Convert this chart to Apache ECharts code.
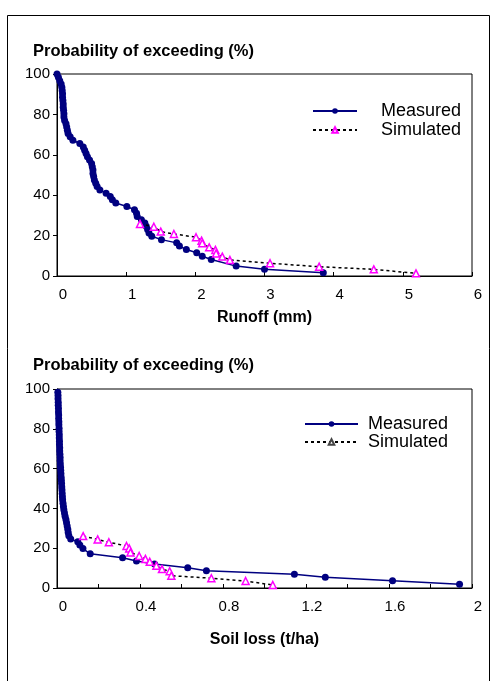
<!DOCTYPE html>
<html><head><meta charset="utf-8">
<script src="https://cdn.jsdelivr.net/npm/echarts@6/dist/echarts.min.js"></script>
<style>html,body{margin:0;padding:0;background:#fff}#c{width:500px;height:681px}</style>
</head><body><div id="c"></div>
<script>
// ---- Data ----
const runoffMeasuredX = [0.00,0.02,0.04,0.06,0.07,0.075,0.08,0.08,0.085,0.09,0.09,0.095,0.10,0.10,0.11,0.13,0.14,0.15,0.16,0.19,0.23,0.33,0.38,0.40,0.42,0.44,0.47,0.50,0.51,0.52,0.52,0.53,0.54,0.56,0.58,0.62,0.71,0.77,0.80,0.85,1.01,1.12,1.15,1.16,1.22,1.27,1.29,1.31,1.33,1.37,1.51,1.73,1.77,1.87,2.02,2.10,2.23,2.59,3.00,3.85];
const runoffMeasuredY = [100,98.4,96.7,95.1,93.4,91.8,90.2,88.5,86.9,85.2,83.6,82.0,80.3,78.7,77.0,75.4,73.8,72.1,70.5,68.9,67.2,65.6,63.9,62.3,60.7,59.0,57.4,55.7,54.1,52.5,50.8,49.2,47.5,45.9,44.3,42.6,41.0,39.3,37.7,36.1,34.4,32.8,31.1,29.5,27.9,26.2,24.6,23.0,21.3,19.7,18.0,16.4,14.8,13.1,11.5,9.8,8.2,4.9,3.3,1.6];
const runoffSimulatedX = [1.20,1.40,1.50,1.69,2.01,2.09,2.10,2.20,2.29,2.30,2.39,2.50,3.08,3.79,4.58,5.19];
const runoffSimulatedY = [25.8,24.4,22.0,20.8,19.2,17.5,16.2,14.2,12.9,11.2,9.6,7.9,6.3,4.6,3.3,1.3];

const soilMeasuredX = [0.004,0.005,0.005,0.006,0.006,0.007,0.007,0.008,0.008,0.009,0.009,0.010,0.010,0.011,0.011,0.012,0.012,0.013,0.013,0.014,0.015,0.015,0.016,0.017,0.018,0.019,0.020,0.021,0.022,0.023,0.024,0.025,0.026,0.027,0.029,0.031,0.033,0.036,0.039,0.043,0.046,0.049,0.052,0.054,0.057,0.066,0.100,0.110,0.125,0.160,0.316,0.383,0.470,0.630,0.720,1.144,1.293,1.617,1.940];
const soilMeasuredY = [98.4,96.7,95.1,93.4,91.8,90.2,88.5,86.9,85.2,83.6,82.0,80.3,78.7,77.0,75.4,73.8,72.1,70.5,68.9,67.2,65.6,63.9,62.3,60.7,59.0,57.4,55.7,54.1,52.5,50.8,49.2,47.5,45.9,44.3,42.6,41.0,39.3,37.7,36.1,34.4,32.8,31.1,29.5,27.9,26.2,24.6,23.2,21.6,19.8,17.2,15.2,13.6,12.0,10.2,8.7,6.9,5.4,3.7,1.9];
const soilSimulatedX = [0.126,0.196,0.250,0.335,0.348,0.354,0.396,0.426,0.447,0.479,0.506,0.543,0.551,0.744,0.909,1.040];
const soilSimulatedY = [26.1,24.4,23.0,21.1,19.9,17.9,16.1,14.6,13.2,11.2,9.5,8.4,6.2,4.9,3.5,1.5];

const yTickLabels = ['0','20','40','60','80','100'];
const runoffTickLabels = ['0','1','2','3','4','5','6'];
const soilTickLabels = ['0','0.4','0.8','1.2','1.6','2'];
const seriesNames = ['Measured','Simulated'];
const yTitle = 'Probability of exceeding (%)';
const runoffTitle = 'Runoff (mm)';
const soilTitle = 'Soil loss (t/ha)';

// ---- build ----
const FONT = "'Liberation Sans', Arial, sans-serif";
const zip = (xs, ys) => xs.map((x, i) => [x, ys[i]]);
const NAVY = '#000080', MAG = '#ff00ff';

function xAxisCfg(gi, max, interval, labels, name, nameGap, step) {
  return {
    gridIndex: gi, type: 'value', min: 0, max: max, interval: interval,
    axisLine: { show: true, onZero: false, lineStyle: { color: '#000', width: 1 } },
    axisTick: { show: true, inside: true, length: 4, lineStyle: { color: '#000' } },
    splitLine: { show: false },
    axisLabel: {
      color: '#000', fontSize: 15, fontFamily: FONT, margin: 11, padding: [0, 0, 0, 12],
      formatter: v => {
        const k = Math.round(v / interval);
        return (k % step === 0) ? (labels[k / step] || '') : '';
      }
    },
    name: name, nameLocation: 'middle', nameGap: nameGap,
    nameTextStyle: { color: '#000', fontSize: 16, fontWeight: 'bold', fontFamily: FONT }
  };
}
function yAxisCfg(gi) {
  return {
    gridIndex: gi, type: 'value', min: 0, max: 100, interval: 20,
    axisLine: { show: true, onZero: false, lineStyle: { color: '#000', width: 1 } },
    axisTick: { show: true, inside: false, length: 4, lineStyle: { color: '#000' } },
    splitLine: { show: false },
    axisLabel: { color: '#000', fontSize: 15, fontFamily: FONT, margin: 7,
      formatter: v => yTickLabels[Math.round(v / 20)] }
  };
}
function measured(name, gi, data) {
  return { type: 'line', name: name, xAxisIndex: gi, yAxisIndex: gi, data: data,
    symbol: 'circle', symbolSize: 7, showAllSymbol: true,
    lineStyle: { color: NAVY, width: 1.5 }, itemStyle: { color: NAVY }, z: 3, animation: false };
}
function simulated(name, gi, data) {
  return { type: 'line', name: name, xAxisIndex: gi, yAxisIndex: gi, data: data,
    symbol: 'triangle', symbolSize: 7, showAllSymbol: true,
    lineStyle: { color: '#000', width: 1.5, type: [3, 3] },
    itemStyle: { color: '#fff', borderColor: MAG, borderWidth: 1.5 }, z: 4, animation: false };
}

const chart = echarts.init(document.getElementById('c'), null, { renderer: 'canvas' });
chart.setOption({
  backgroundColor: '#fff',
  animation: false,
  textStyle: { fontFamily: FONT },
  graphic: [{ type: 'rect', silent: true, z: -10,
    shape: { x: 7.5, y: 15.5, width: 482, height: 700 },
    style: { fill: 'none', stroke: '#000', lineWidth: 1 } }],
  title: [
    { text: yTitle, left: 33, top: 43, padding: 0,
      textStyle: { fontSize: 16.5, fontWeight: 'bold', color: '#000', fontFamily: FONT } },
    { text: yTitle, left: 33, top: 357, padding: 0,
      textStyle: { fontSize: 16.5, fontWeight: 'bold', color: '#000', fontFamily: FONT } }
  ],
  grid: [
    { left: 57, top: 74, width: 415, height: 202, show: true, borderColor: '#000', borderWidth: 1, backgroundColor: 'transparent' },
    { left: 57, top: 389, width: 415, height: 199, show: true, borderColor: '#000', borderWidth: 1, backgroundColor: 'transparent' }
  ],
  xAxis: [
    xAxisCfg(0, 6, 1, runoffTickLabels, runoffTitle, 34, 1),
    xAxisCfg(1, 2, 0.2, soilTickLabels, soilTitle, 44, 2)
  ],
  yAxis: [yAxisCfg(0), yAxisCfg(1)],
  legend: [
    { left: 312, top: 102, orient: 'vertical', itemWidth: 44, itemHeight: 7, itemGap: 1,
      selectedMode: false, padding: 0,
      data: [seriesNames[0], seriesNames[1]],
      textStyle: { fontSize: 18, color: '#000', fontFamily: FONT, lineHeight: 18, padding: [0, 0, 0, 19] } },
    { left: 304, top: 415, orient: 'vertical', itemWidth: 53, itemHeight: 7, itemGap: 0,
      selectedMode: false, padding: 0,
      data: [seriesNames[0] + ' ', { name: seriesNames[1] + ' ', itemStyle: { borderColor: '#444' } }],
      textStyle: { fontSize: 18, color: '#000', fontFamily: FONT, lineHeight: 16, padding: [0, 0, 0, 5] } }
  ],
  series: [
    measured(seriesNames[0], 0, zip(runoffMeasuredX, runoffMeasuredY)),
    simulated(seriesNames[1], 0, zip(runoffSimulatedX, runoffSimulatedY)),
    measured(seriesNames[0] + ' ', 1, zip(soilMeasuredX, soilMeasuredY)),
    simulated(seriesNames[1] + ' ', 1, zip(soilSimulatedX, soilSimulatedY))
  ]
});
</script></body></html>
